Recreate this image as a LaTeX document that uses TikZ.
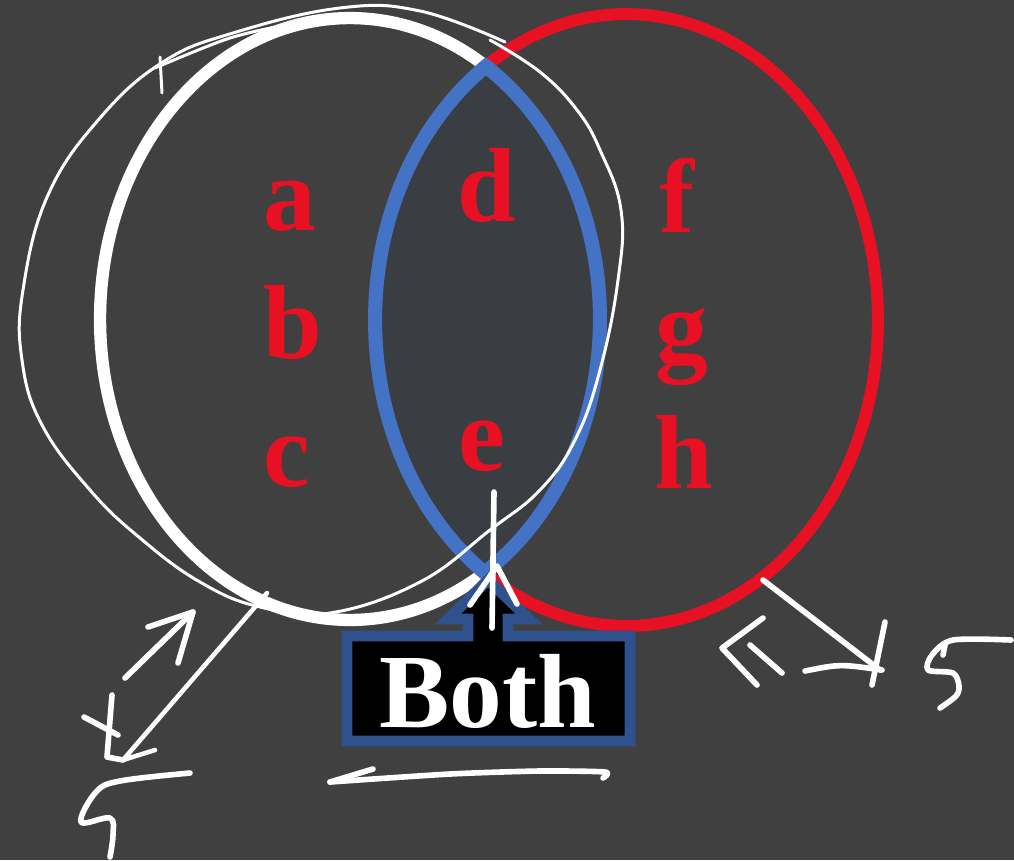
\documentclass[tikz,border=0pt]{standalone}
\usepackage{fontspec}
\setmainfont{Liberation Serif}
\usepackage{xcolor}
\usepackage{tikz}
\usetikzlibrary{arrows.meta,positioning}

\definecolor{slate}{RGB}{64,64,64}
\definecolor{lensgray}{RGB}{58,62,66}
\definecolor{vennred}{RGB}{232,17,35}
\definecolor{lensblue}{RGB}{68,114,196}
\definecolor{boxblue}{RGB}{47,82,143}

\begin{document}
\begin{tikzpicture}[
x=0.02cm, y=-0.02cm,
font=\fontsize{60}{60}\selectfont\bfseries,
letter/.style={text=vennred, anchor=base, inner sep=0pt},
ink/.style={draw=white, line width=3.2pt, line cap=round, line join=round},
thinink/.style={draw=white, line width=1.7pt, line cap=round, line join=round}
]
\path[use as bounding box, fill=slate] (0,0) rectangle (1014,860);

\draw[vennred, line width=6.8pt] (626.5,320) ellipse [x radius=5.03cm, y radius=6.12cm];
\draw[white, line width=7pt] (350,319) ellipse [x radius=5cm, y radius=6.02cm];

\begin{scope}
\clip (350,319) ellipse [x radius=5cm, y radius=6.02cm];
\fill[lensgray] (626.5,320) ellipse [x radius=5.03cm, y radius=6.12cm];
\end{scope}
\begin{scope}
\clip (626.5,320) ellipse [x radius=5.17cm, y radius=6.26cm];
\draw[lensblue, line width=8pt] (350,319) ellipse [x radius=5cm, y radius=6.02cm];
\end{scope}
\begin{scope}
\clip (350,319) ellipse [x radius=5.14cm, y radius=6.16cm];
\draw[lensblue, line width=8pt] (626.5,320) ellipse [x radius=5.03cm, y radius=6.12cm];
\end{scope}

\node[letter] (a) at (290,230) {a};
\node[letter] (b) at (293,358) {b};
\node[letter] (c) at (287,486) {c};
\node[letter] (d) at (487,221) {d};
\node[letter] (e) at (482,470) {e};
\node[letter] (f) at (677,232) {f};
\node[letter] (g) at (682,362) {g};
\node[letter] (h) at (684,488) {h};

\path[fill=black, draw=boxblue, line width=6.2pt]
  (347,636) -- (468,636) -- (468,619) -- (448,619) -- (488,580) -- (529,619)
  -- (508,619) -- (508,636) -- (630,636) -- (630,741) -- (347,741) -- cycle;
\node[text=white, anchor=base, inner sep=0pt] (both) at (488,727) {Both};

\draw[thinink] plot[smooth, tension=0.7] coordinates {
  (505,42) (420,11) (340,8) (233,33) (163,62) (100,118) (48,195) (23,290)
  (22,360) (42,425) (90,490) (140,538) (200,582) (260,607)
  (330,613) (420,582) (490,530) (540,490) (575,440) (600,370) (618,280)
  (621,210) (600,150) (577,110) (540,72) (490,40)};
\draw[thinink] plot[smooth] coordinates {(155,68) (230,38) (300,22) (345,15)};
\draw[thinink] (160,57) -- (162,93);

\draw[ink] (494,492) -- (492,628);
\draw[ink] (470,605) -- (497,566) -- (517,604);

\draw[ink, line width=2.6pt] (267,593) -- (123,760) -- (155,750);
\draw[ink] (112,695) -- (107,757) -- (123,760);
\draw[ink] (84,717) -- (118,735);
\draw[ink] (125,678) -- (193,612);
\draw[ink] (148,627) -- (193,612) -- (178,663);
\draw[ink] plot[smooth, tension=0.6] coordinates {
  (190,773) (120,781) (96,792) (81,822) (110,818) (113,835) (110,857)};

\draw[ink] plot[smooth, tension=0.4] coordinates {
  (603,778) (605,772) (540,771) (450,774) (330,782)};
\draw[ink] (330,782) -- (373,769);

\draw[ink] (763,580) -- (880,670);
\draw[ink] (885,622) -- (872,685);
\draw[ink] (805,671) .. controls (840,664) .. (882,670);
\draw[ink] (763,618) -- (722,648) -- (757,685);
\draw[ink] (750,645) -- (782,673);
\draw[ink] plot[smooth, tension=0.5] coordinates {
  (1011,640) (953,640) (932,655) (928,670) (953,673) (959,686) (956,696) (940,708)};
\draw[ink] (945,645) -- (943,655);
\end{tikzpicture}
\end{document}
